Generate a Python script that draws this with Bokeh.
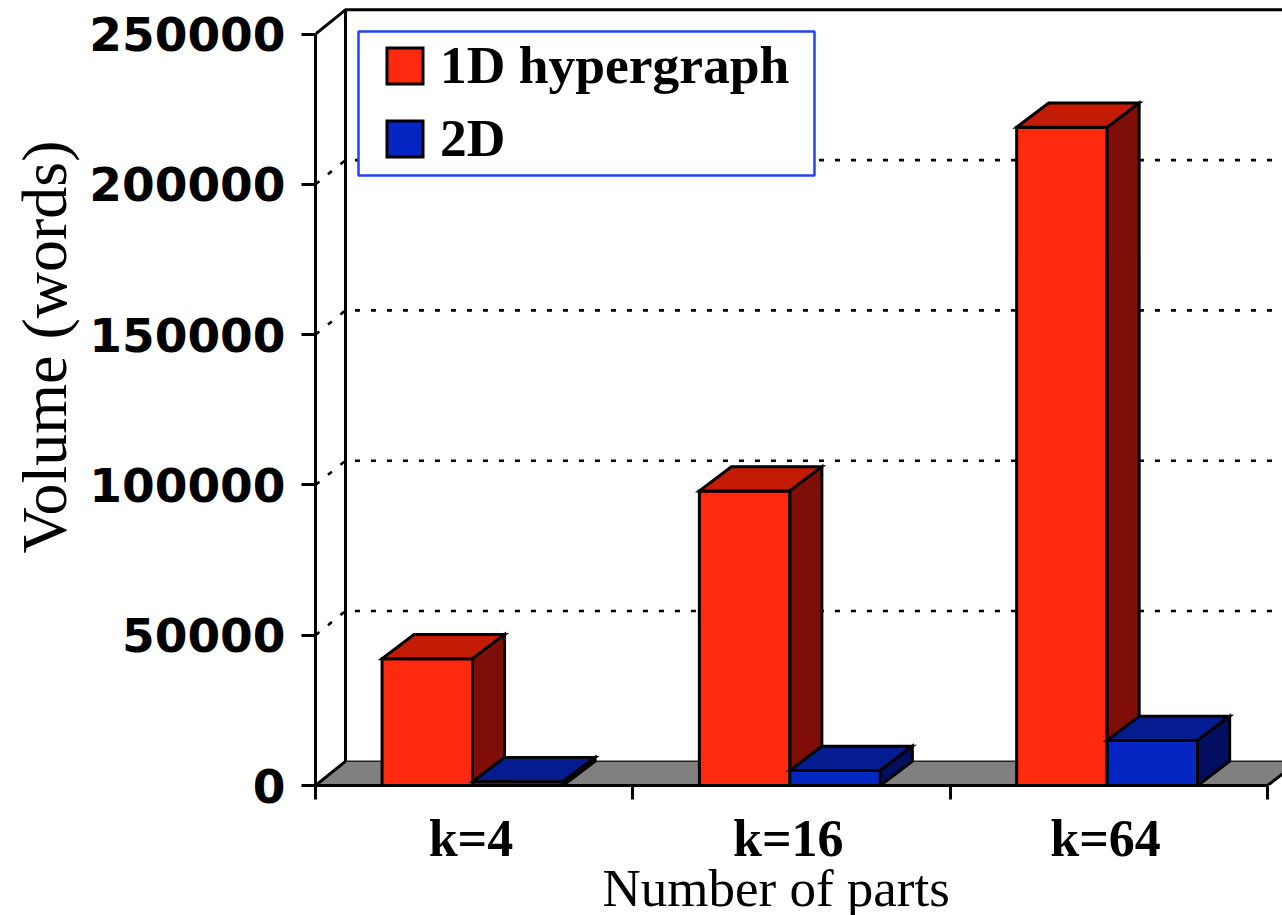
from bokeh.embed import file_html
from bokeh.models import (BoxAnnotation, FixedTicker, Legend, LegendItem,
                          LinearAxis, Range1d, Title)
from bokeh.plotting import figure
from bokeh.resources import INLINE

# Communication volume per partition count
categories = ["k=4", "k=16", "k=64"]
volume_1d = [42200, 98000, 219000]
volume_2d = [1300, 5000, 15000]
y_ticks = [0, 50000, 100000, 150000, 200000, 250000]

# Pixel scales of the plotting frame
FRAME_LEFT, FRAME_BOTTOM = 315, 130
WIDTH, HEIGHT = 1282, 915
FRAME_H = HEIGHT - FRAME_BOTTOM
PX_PER_CAT = 317.3
PX_PER_UNIT = 751.5 / 250000
DX = 32 / PX_PER_CAT          # depth of the bars, x
WALL_DX = 30 / PX_PER_CAT     # depth of the floor and wall, x
DY = 24.2 / PX_PER_UNIT       # depth of the 3D projection, y
BAR = 90.5 / PX_PER_CAT

RED = ("#FF2A0E", "#C41B05", "#7E0E07")
BLUE = ("#0626C4", "#041C90", "#020F60")
LW = 3

x_end = (WIDTH - FRAME_LEFT) / PX_PER_CAT
y_end = FRAME_H / PX_PER_UNIT

p = figure(width=WIDTH, height=HEIGHT, output_backend="svg", toolbar_location=None,
           x_range=Range1d(0, x_end), y_range=Range1d(0, y_end),
           x_axis_location=None, y_axis_location=None,
           min_border_left=FRAME_LEFT, min_border_right=0,
           min_border_top=0, min_border_bottom=FRAME_BOTTOM)
p.grid.visible = False
p.outline_line_color = None
p.background_fill_color = "white"

# Floor and back wall
p.patch([0, WALL_DX, x_end + 1, x_end + 1, 3 + DX, 3], [0, DY, DY, DY, DY, 0],
        fill_color="#808080", line_color=None)
p.line([WALL_DX, x_end], [DY, DY], line_color="#222222", line_width=1.6)
p.line([3, 3 + DX], [0, DY], line_color="black", line_width=LW)
p.line([0, WALL_DX], [0, DY], line_color="black", line_width=LW)
p.line([WALL_DX, WALL_DX], [DY, 250000 + DY], line_color="black", line_width=LW)
p.line([0, WALL_DX, x_end], [250000, 250000 + DY, 250000 + DY], line_color="black", line_width=LW)

# Dotted grid runs across the side and along the back wall
for tick in y_ticks[1:-1]:
    p.line([0, WALL_DX, x_end], [tick, tick + DY, tick + DY],
           line_color="black", line_width=2.6, line_dash="5 11")


def box3d(x0, x1, top, colors):
    front = p.quad(left=x0, right=x1, bottom=0, top=top, fill_color=colors[0],
                   line_color="black", line_width=LW, line_join="miter")
    p.patch([x0, x0 + DX, x1 + DX, x1], [top, top + DY, top + DY, top],
            fill_color=colors[1], line_color="black", line_width=LW, line_join="miter")
    p.patch([x1, x1 + DX, x1 + DX, x1], [0, DY, top + DY, top],
            fill_color=colors[2], line_color="black", line_width=LW, line_join="miter")
    return front


swatch_1d = swatch_2d = None
for i, (v1, v2) in enumerate(zip(volume_1d, volume_2d)):
    centre = i + 0.5 - 0.005
    swatch_1d = box3d(centre - BAR, centre, v1, RED)
    swatch_2d = box3d(centre, centre + BAR, v2, BLUE)

# Value axis
left = LinearAxis(bounds=(0, 250000), ticker=FixedTicker(ticks=y_ticks, minor_ticks=[]))
left.major_tick_in = 0
left.major_tick_out = 14
left.major_tick_line_width = LW
left.axis_line_width = LW
left.major_label_standoff = 16
left.major_label_text_font = "DejaVu Sans"
left.major_label_text_font_style = "bold"
left.major_label_text_font_size = "47px"
left.major_label_text_color = "black"
left.formatter.use_scientific = False
p.add_layout(left, "left")

# Category axis: labels near group centres, ticks at the group boundaries
cat_centres = [i + 0.49 for i in range(len(categories))]
bottom = LinearAxis(bounds=(0, 3),
                    ticker=FixedTicker(ticks=cat_centres, minor_ticks=[0, 1, 2, 3]),
                    major_label_overrides={c: n for c, n in zip(cat_centres, categories)})
bottom.major_tick_in = 0
bottom.major_tick_out = 0
bottom.minor_tick_in = 0
bottom.minor_tick_out = 14
bottom.minor_tick_line_width = LW
bottom.axis_line_width = LW
bottom.major_label_standoff = 10
bottom.major_label_text_font = "Liberation Serif"
bottom.major_label_text_font_style = "bold"
bottom.major_label_text_font_size = "52px"
bottom.major_label_text_color = "black"
p.add_layout(bottom, "below")

# Axis titles as side-panel titles, so they can sit off-centre
p.add_layout(Title(text="Number of parts", align="left", offset=287, standoff=-26,
                   text_font="Liberation Serif", text_font_style="normal",
                   text_font_size="53px", text_color="black"), "below")
p.add_layout(Title(text="Volume (words)", align="left", offset=232, standoff=13,
                   text_font="Liberation Serif", text_font_style="normal",
                   text_font_size="64px", text_color="black"), "left")

# Legend panel and entries
p.add_layout(BoxAnnotation(left=358 - FRAME_LEFT, right=814 - FRAME_LEFT,
                           top=FRAME_H - 31, bottom=FRAME_H - 175,
                           left_units="screen", right_units="screen",
                           top_units="screen", bottom_units="screen",
                           fill_color="white", fill_alpha=1,
                           line_color="#1F45F0", line_alpha=1, line_width=2.5))
legend = Legend(items=[LegendItem(label="1D hypergraph", renderers=[swatch_1d]),
                       LegendItem(label="2D", renderers=[swatch_2d])],
                location=(382 - FRAME_LEFT, FRAME_H - 169),
                padding=0, margin=0, spacing=11, glyph_width=45, glyph_height=45,
                label_standoff=13, label_height=45,
                label_text_font="Liberation Serif", label_text_font_style="bold",
                label_text_font_size="53.5px", label_text_color="black",
                border_line_color=None, background_fill_alpha=0)
p.add_layout(legend, "center")

open("out.html", "w").write(file_html(p, INLINE))
